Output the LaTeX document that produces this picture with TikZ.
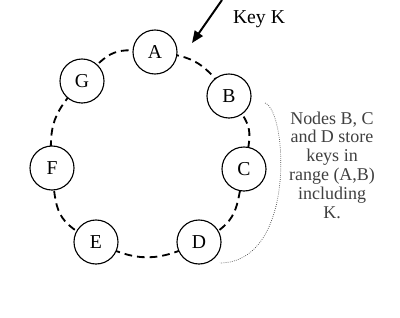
\documentclass[tikz,border=0pt]{standalone}
\usepackage{fontspec}
\setmainfont{Liberation Serif}
\usetikzlibrary{arrows.meta, backgrounds}
\definecolor{cink}{HTML}{000000}
\definecolor{cgrey}{HTML}{404040}
\tikzset{
  every picture/.style={line width=0.8pt},
  peer/.style={draw=cink, circle, fill=white, minimum size=1.1cm, inner sep=0pt, font=\fontsize{14}{16}\selectfont},
  ring/.style={draw=cink, dash pattern=on 5.5pt off 3.5pt, line width=1.3pt},
  arrow/.style={-{Triangle[length=3mm, width=2.4mm]}, draw=cink, line width=1.4pt},
  label/.style={font=\fontsize{14}{16}\selectfont},
  note/.style={font=\fontsize{12.8}{13.4}\selectfont, text=cgrey, align=center},
  bracket/.style={densely dotted, line width=0.5pt, draw=cgrey},
}
\begin{document}
\begin{tikzpicture}[x=0.025cm, y=-0.025cm]
  \useasboundingbox (0,0) rectangle (400,317);
  % peers on the ring
  \foreach \n/\x/\y in {A/155/52, B/229/96, C/244/169, D/199/242, E/96/242, F/52/168, G/82/81}
    \node[peer] (\n) at (\x,\y) {\n};
  \begin{scope}[on background layer]
    \draw[ring] plot[smooth cycle, tension=1] coordinates {(A) (B) (C) (D) (E) (F) (G)};
  \end{scope}
  % incoming key
  \node[label] (key) at (259,19) {Key K};
  \coordinate (kfrom) at (222,0);
  \coordinate (kto) at (192,43);
  \draw[arrow] (kfrom) -- (kto);
  % range note
  \node[note] (range) at (332,165) {Nodes B, C\\and D store\\keys in\\range (A,B)\\including\\K.};
  \coordinate (rtop) at (265,103);
  \coordinate (rbot) at (220,263);
  \draw[bracket] (rtop) .. controls (287,110) and (297,262) .. (rbot);
\end{tikzpicture}
\end{document}
